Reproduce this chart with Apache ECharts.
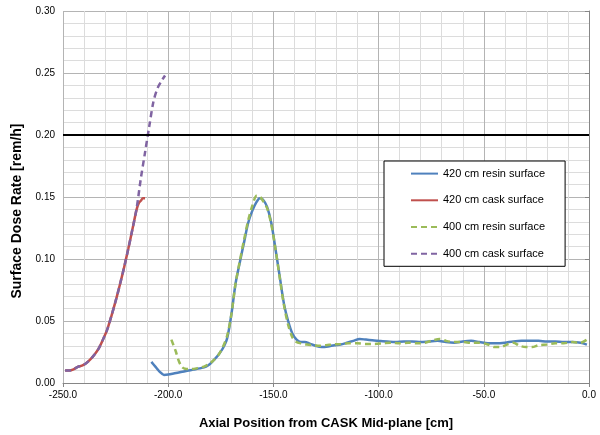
<!DOCTYPE html>
<html>
<head>
<meta charset="utf-8">
<script src="https://cdn.jsdelivr.net/npm/echarts@6/dist/echarts.min.js"></script>
<style>
  html, body { margin: 0; padding: 0; background: #fff; }
  #chart { width: 600px; height: 435px; }
</style>
</head>
<body>
<div id="chart"></div>
<script>
// series names
const seriesNames = ['420 cm resin surface', '420 cm cask surface', '400 cm resin surface', '400 cm cask surface'];

// 420 cm resin surface
const resin420X = [-208, -206, -204, -202, -200, -197, -194, -191, -188, -185, -182, -180, -178, -176, -174, -172, -170, -168, -166, -164, -162, -160, -158, -156.5, -155, -153, -151, -149, -147, -145, -143, -141, -139, -137, -135, -133, -130, -127, -124, -121, -118, -115, -112, -109, -106, -103, -100, -96, -92, -88, -84, -80, -76, -72, -68, -64, -60, -56, -52, -48, -44, -40, -36, -32, -28, -24, -20, -16, -12, -8, -4, -1];
const resin420Y = [0.017, 0.013, 0.009, 0.0065, 0.0068, 0.0078, 0.0088, 0.0098, 0.0108, 0.0118, 0.0132, 0.0155, 0.019, 0.023, 0.028, 0.036, 0.055, 0.080, 0.097, 0.113, 0.129, 0.139, 0.146, 0.149, 0.148, 0.142, 0.129, 0.108, 0.086, 0.064, 0.050, 0.040, 0.035, 0.033, 0.033, 0.032, 0.030, 0.029, 0.0295, 0.0305, 0.031, 0.0325, 0.034, 0.0355, 0.035, 0.0345, 0.034, 0.0335, 0.033, 0.0335, 0.0335, 0.033, 0.0335, 0.034, 0.033, 0.0325, 0.0335, 0.034, 0.033, 0.032, 0.032, 0.0325, 0.0335, 0.034, 0.034, 0.034, 0.0335, 0.0335, 0.033, 0.033, 0.0325, 0.031];

// 420 cm cask surface
const cask420X = [-249, -247, -245, -243, -241, -239, -237, -235, -233, -231, -229, -227, -225, -223, -221, -219, -217, -215, -214, -213, -212, -211];
const cask420Y = [0.010, 0.010, 0.011, 0.013, 0.014, 0.016, 0.019, 0.023, 0.028, 0.035, 0.043, 0.054, 0.066, 0.079, 0.093, 0.108, 0.124, 0.140, 0.145, 0.147, 0.149, 0.149];

// 400 cm resin surface
const resin400X = [-198.5, -196.5, -195, -193.5, -192, -189, -186, -183, -180, -178, -176, -174, -172, -170, -168, -166, -164, -162, -160, -158, -157, -155, -153, -151, -149, -147, -145, -143, -141, -139, -137, -134, -131, -128, -125, -122, -118, -114, -110, -106, -102, -98, -94, -90, -86, -82, -78, -74, -71, -68, -64, -60, -56, -52, -48, -45, -42, -39, -36, -33, -30, -27, -24, -20, -16, -12, -8, -4, -1];
const resin400Y = [0.035, 0.026, 0.018, 0.013, 0.0115, 0.0112, 0.012, 0.0132, 0.016, 0.019, 0.023, 0.029, 0.038, 0.055, 0.080, 0.098, 0.115, 0.131, 0.143, 0.151, 0.151, 0.147, 0.141, 0.128, 0.108, 0.085, 0.063, 0.047, 0.037, 0.033, 0.032, 0.031, 0.0305, 0.030, 0.0305, 0.031, 0.0315, 0.032, 0.032, 0.0315, 0.0315, 0.032, 0.0325, 0.032, 0.0325, 0.032, 0.0325, 0.0345, 0.0355, 0.034, 0.033, 0.033, 0.0325, 0.0325, 0.031, 0.029, 0.029, 0.031, 0.0325, 0.030, 0.029, 0.029, 0.0305, 0.031, 0.032, 0.032, 0.033, 0.0325, 0.035];

// 400 cm cask surface
const cask400X = [-249, -247, -245, -243, -241, -239, -237, -235, -233, -231, -229, -227, -225, -223, -221, -219, -217, -215, -213, -211, -209, -207, -205, -203, -201.5];
const cask400Y = [0.010, 0.010, 0.011, 0.013, 0.014, 0.016, 0.019, 0.023, 0.028, 0.035, 0.043, 0.054, 0.066, 0.079, 0.093, 0.108, 0.124, 0.141, 0.165, 0.186, 0.207, 0.227, 0.238, 0.244, 0.248];

// limit line
const limitValue = 0.20;

const colors = ['#4F81BD', '#C0504D', '#9BBB59', '#8064A2'];
const font = 'Liberation Sans';

function pairs(xs, ys) {
  return xs.map((x, i) => [x, ys[i]]);
}

const chart = echarts.init(document.getElementById('chart'), null, { renderer: 'canvas' });

const option = {
  animation: false,
  color: colors,
  grid: { left: 63, right: 11, top: 11, bottom: 52 },
  legend: {
    orient: 'vertical',
    left: 384,
    top: 161,
    padding: [7, 20, 7, 26],
    itemWidth: 27,
    itemHeight: 14,
    itemGap: 15.5,
    itemTextGap: 3,
    borderColor: '#000',
    borderWidth: 1,
    backgroundColor: '#fff',
    itemStyle: { opacity: 0 },
    textStyle: { fontFamily: font, fontSize: 11, color: '#000' },
    data: seriesNames
  },
  xAxis: {
    type: 'value',
    min: -250,
    max: 0,
    interval: 50,
    name: 'Axial Position from CASK Mid-plane [cm]',
    nameLocation: 'middle',
    nameGap: 34,
    nameTextStyle: { fontFamily: font, fontSize: 13, fontWeight: 'bold', color: '#000' },
    axisLine: { show: true, onZero: false, lineStyle: { color: '#868686' } },
    axisTick: { show: true, length: 4, lineStyle: { color: '#868686' } },
    minorTick: { show: false, splitNumber: 5 },
    splitLine: { show: true, lineStyle: { color: '#b4b4b4' } },
    minorSplitLine: { show: true, lineStyle: { color: '#dcdcdc' } },
    axisLabel: { fontFamily: font, fontSize: 10, color: '#000', margin: 7, formatter: v => v.toFixed(1) }
  },
  yAxis: {
    type: 'value',
    min: 0,
    max: 0.30,
    interval: 0.05,
    name: 'Surface Dose Rate [rem/h]',
    nameLocation: 'middle',
    nameGap: 36,
    nameTextStyle: { fontFamily: font, fontSize: 14, fontWeight: 'bold', color: '#000', padding: [0, 28, 0, 0] },
    axisLine: { show: true, lineStyle: { color: '#868686' } },
    axisTick: { show: true, length: 4, lineStyle: { color: '#868686' } },
    minorTick: { show: false, splitNumber: 5 },
    splitLine: { show: true, lineStyle: { color: '#b4b4b4' } },
    minorSplitLine: { show: true, lineStyle: { color: '#dcdcdc' } },
    axisLabel: { fontFamily: font, fontSize: 10, color: '#000', margin: 8, formatter: v => v.toFixed(2) }
  },
  series: [
    {
      name: seriesNames[0],
      type: 'line',
      showSymbol: false,
      symbol: 'none',
      smooth: 0.3,
      lineStyle: { width: 2.5, color: colors[0] },
      data: pairs(resin420X, resin420Y),
      z: 3,
      markLine: {
        silent: true,
        symbol: 'none',
        label: { show: false },
        lineStyle: { color: '#000', width: 2, type: 'solid' },
        data: [{ yAxis: limitValue }]
      }
    },
    {
      name: seriesNames[1],
      type: 'line',
      showSymbol: false,
      symbol: 'none',
      smooth: 0.3,
      lineStyle: { width: 2.5, color: colors[1] },
      data: pairs(cask420X, cask420Y),
      z: 3
    },
    {
      name: seriesNames[2],
      type: 'line',
      showSymbol: false,
      symbol: 'none',
      smooth: 0.3,
      lineStyle: { width: 2.5, color: colors[2], type: [6, 4] },
      data: pairs(resin400X, resin400Y),
      z: 4
    },
    {
      name: seriesNames[3],
      type: 'line',
      showSymbol: false,
      symbol: 'none',
      smooth: 0.3,
      lineStyle: { width: 2.5, color: colors[3], type: [6, 4] },
      data: pairs(cask400X, cask400Y),
      z: 4
    }
  ]
};

chart.setOption(option);
</script>
</body>
</html>
